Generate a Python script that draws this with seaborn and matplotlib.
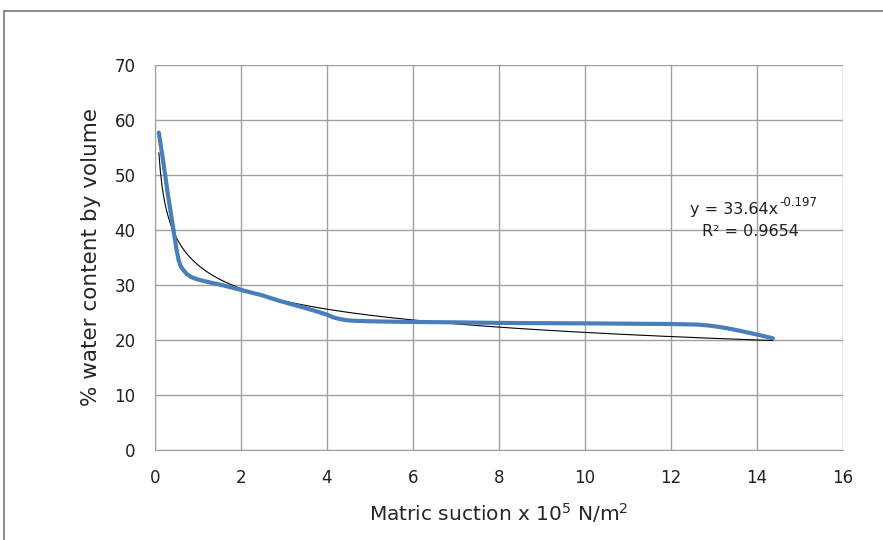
import numpy as np
import pandas as pd
import matplotlib
matplotlib.use('Agg')
import matplotlib.pyplot as plt
import seaborn as sns
from matplotlib.patches import Rectangle

# suction readings (x 10^5 N/m^2) and water content (% by volume)
suction = [0.09, 0.2, 0.3, 0.43, 0.5, 0.55, 0.6, 0.66, 0.74, 0.85, 1.0, 1.2, 1.6, 2.0, 2.5, 2.9,
           3.5, 3.8, 4.0, 4.15, 4.3, 4.45, 4.6, 5.0, 5.7, 7.0, 8.0, 10.35, 12.0, 12.6, 12.85,
           13.1, 13.4, 13.7, 14.05, 14.37]
water = [57.7, 52.0, 46.5, 40.0, 36.5, 34.5, 33.4, 32.7, 32.0, 31.4, 31.0, 30.6, 29.9, 29.1, 28.1, 27.1,
         25.8, 25.1, 24.6, 24.1, 23.8, 23.6, 23.5, 23.4, 23.3, 23.2, 23.1, 23.0, 22.9, 22.8, 22.65,
         22.4, 22.0, 21.5, 20.9, 20.3]

# power trendline as shown in the chart label
trend_a = 33.64
trend_b = -0.197
r_squared = 0.9654

df = pd.DataFrame({'suction': suction, 'water': water})
xt = np.linspace(min(suction), max(suction), 400)
trend = pd.DataFrame({'suction': xt, 'water': trend_a * xt ** trend_b})

sns.set_style('white')
plt.rcParams['font.family'] = ['DejaVu Sans']
plt.rcParams['axes.unicode_minus'] = False

fig = plt.figure(figsize=(8.83, 5.4), dpi=100)
ax = fig.add_axes([0.1755, 0.1667, 0.7792, 0.713])

sns.lineplot(data=trend, x='suction', y='water', ax=ax, color='black', linewidth=0.8, zorder=3)
sns.lineplot(data=df, x='suction', y='water', ax=ax, color='#4A7EBB', linewidth=3,
             zorder=4, solid_capstyle='round', solid_joinstyle='round')

ax.set_xlim(0, 16)
ax.set_ylim(0, 70)
ax.set_xticks(range(0, 17, 2))
ax.set_yticks(range(0, 71, 10))
ax.grid(True, color='#A0A0A0', linewidth=1)
ax.set_axisbelow(True)
for s in ['top', 'right']:
    ax.spines[s].set_visible(False)
for s in ['left', 'bottom']:
    ax.spines[s].set_color('#A0A0A0')
ax.tick_params(length=0, labelsize=12, colors='#202020', pad=14)
ax.set_xlabel('Matric suction x 10$^5$ N/m$^2$', fontsize=14.5, labelpad=10)
ax.set_ylabel('% water content by volume', fontsize=15.5, labelpad=10)

# trendline equation, exponent drawn as a small raised text
eq = ax.text(0.906, 0.625, f'y = {trend_a:.2f}x', transform=ax.transAxes,
             ha='right', va='center', fontsize=11.5, color='#202020')
ax.annotate(f'{trend_b:.3f}', xy=(1, 0.5), xycoords=eq, xytext=(0.5, 0.5),
            textcoords='offset points', ha='left', va='bottom', fontsize=8.5, color='#202020')
ax.text(0.865, 0.568, f'R² = {r_squared:.4f}', transform=ax.transAxes,
        ha='center', va='center', fontsize=11.5, color='#202020')

# chart area border
fig.patches.append(Rectangle((4 / 883, -0.1), 1.1, 1 - 11 / 540 + 0.1, transform=fig.transFigure,
                             fill=False, edgecolor='#8C8C8C', linewidth=1.5))

fig.savefig('out.png', dpi=100)
